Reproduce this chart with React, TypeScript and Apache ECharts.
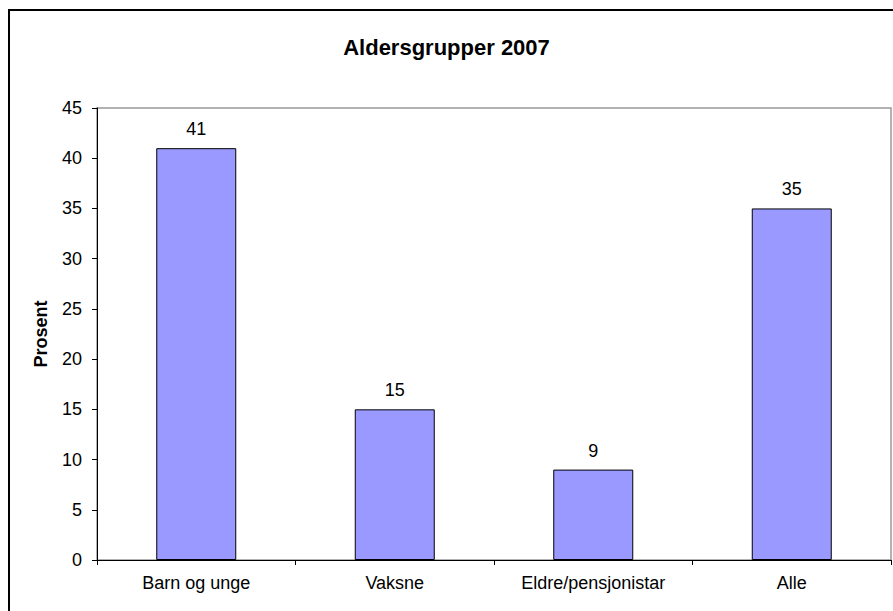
import React, { useEffect, useRef } from "react";
import * as echarts from "echarts";

const categories = ["Barn og unge", "Vaksne", "Eldre/pensjonistar", "Alle"];
const values = [41, 15, 9, 35];
const chartTitle = "Aldersgrupper 2007";
const yAxisName = "Prosent";

const FONT = "Arial, 'Liberation Sans', sans-serif";

export default function App() {
  const ref = useRef<HTMLDivElement>(null);
  useEffect(() => {
    document.body.style.margin = "0";
    const chart = echarts.init(ref.current!, null, { renderer: "svg" });
    chart.setOption({
      animation: false,
      backgroundColor: "#ffffff",
      textStyle: { fontFamily: FONT },
      title: {
        text: chartTitle,
        left: "center",
        top: 31,
        textStyle: { fontSize: 22, fontWeight: "bold", color: "#000", fontFamily: FONT },
      },
      graphic: [
        {
          type: "rect",
          shape: { x: 9, y: 10, width: 950, height: 700 },
          style: { fill: "none", stroke: "#000", lineWidth: 2 },
          silent: true,
          z: 100,
        },
      ],
      grid: {
        left: 97,
        right: 2,
        top: 108,
        bottom: 51,
        show: true,
        borderColor: "#999",
        borderWidth: 1.5,
        backgroundColor: "#fff",
      },
      xAxis: {
        type: "category",
        data: categories,
        axisLine: { lineStyle: { color: "#000", width: 1 } },
        axisTick: { show: true, length: 5, lineStyle: { color: "#000" } },
        axisLabel: { color: "#000", fontSize: 18, margin: 14, fontFamily: FONT },
      },
      yAxis: {
        type: "value",
        min: 0,
        max: 45,
        interval: 5,
        name: yAxisName,
        nameLocation: "middle",
        nameGap: 47,
        nameRotate: 90,
        nameTextStyle: { fontSize: 18, fontWeight: "bold", color: "#000", fontFamily: FONT },
        axisLine: { show: true, lineStyle: { color: "#000", width: 1 } },
        axisTick: { show: true, length: 5, lineStyle: { color: "#000" } },
        axisLabel: { color: "#000", fontSize: 18, margin: 15, fontFamily: FONT },
        splitLine: { show: false },
      },
      series: [
        {
          type: "bar",
          data: values,
          barWidth: 80,
          itemStyle: { color: "#9999FF", borderColor: "#000", borderWidth: 1 },
          label: {
            show: true,
            position: "top",
            distance: 10,
            color: "#000",
            fontSize: 18,
            fontFamily: FONT,
          },
        },
      ],
    });
    return () => chart.dispose();
  }, []);
  return <div ref={ref} style={{ width: 893, height: 611 }} />;
}
